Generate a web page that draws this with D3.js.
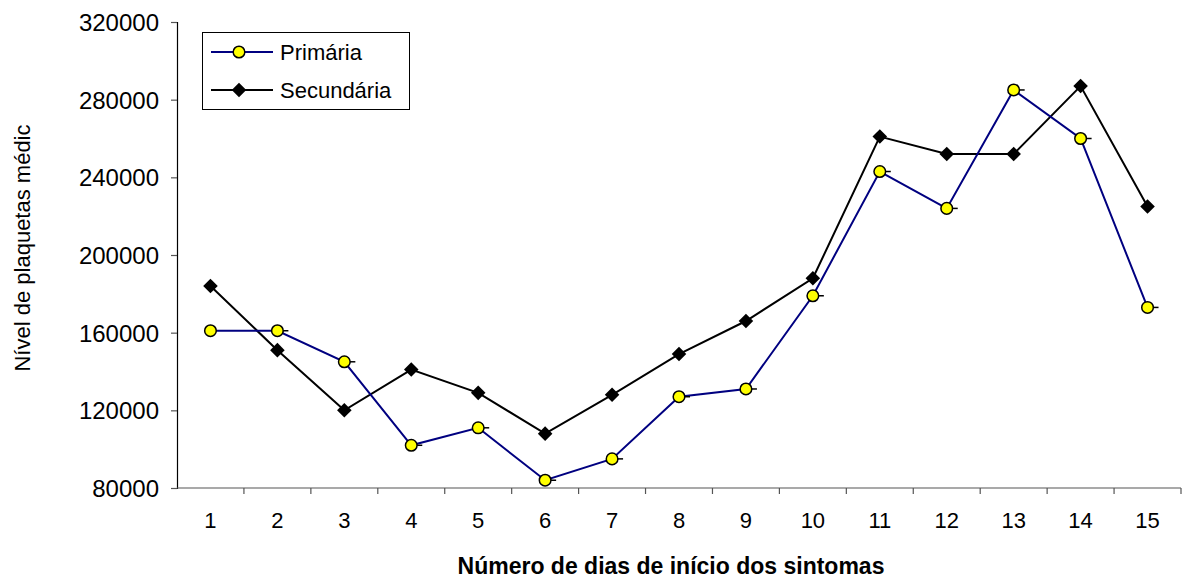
<!DOCTYPE html>
<html>
<head>
<meta charset="utf-8">
<script src="https://cdn.jsdelivr.net/npm/d3@7"></script>
<style>
  body { margin: 0; background: #fff; }
  text { font-family: "Liberation Sans", Arial, sans-serif; fill: #000; }
  .y-tick { font-size: 24px; }
  .x-tick { font-size: 22px; }
  .axis-title { font-size: 23px; font-weight: bold; }
  .y-title { font-size: 22px; }
  .legend-text { font-size: 22px; }
</style>
</head>
<body>
<div id="chart"></div>
<script>
// dias desde o início dos sintomas
const days = ['1', '2', '3', '4', '5', '6', '7', '8', '9', '10', '11', '12', '13', '14', '15'];
const primaria = [161000, 161000, 145000, 102000, 111000, 84000, 95000, 127000, 131000, 179000, 243000, 224000, 285000, 260000, 173000];
const secundaria = [184000, 151000, 120000, 141000, 129000, 108000, 128000, 149000, 166000, 188000, 261000, 252000, 252000, 287000, 225000];
const yTicks = [80000, 120000, 160000, 200000, 240000, 280000, 320000];

const width = 1182, height = 580;
const margin = { left: 177, right: 1, top: 22, bottom: 92 };

const svg = d3.select('#chart').append('svg')
    .attr('width', width)
    .attr('height', height);

const x = d3.scaleBand()
    .domain(days)
    .range([margin.left, width - margin.right])
    .padding(0);

const y = d3.scaleLinear()
    .domain([80000, 320000])
    .range([height - margin.bottom, margin.top]);

const x0 = margin.left, y0 = height - margin.bottom;

// eixo Y
const yAxis = svg.append('g')
    .attr('transform', `translate(${x0},0)`)
    .call(d3.axisLeft(y).tickValues(yTicks).tickSize(6).tickPadding(12).tickFormat(d3.format('d')));
yAxis.select('.domain').attr('stroke', '#000').attr('stroke-width', 1.2);
yAxis.selectAll('.tick line').attr('stroke', '#555').attr('stroke-width', 1.2);
yAxis.selectAll('.tick text').attr('class', 'y-tick').attr('font-size', null).attr('font-family', null)
    .attr('dy', '0.36em');

// eixo X: rótulos no centro, marcas nas divisões
const xAxis = svg.append('g')
    .attr('transform', `translate(0,${y0})`)
    .call(d3.axisBottom(x).tickSize(0).tickPadding(24));
xAxis.select('.domain').attr('stroke', '#555').attr('stroke-width', 1.2).attr('d', `M${x0},0H${width - margin.right}`);
xAxis.selectAll('.tick text').attr('class', 'x-tick').attr('font-size', null).attr('font-family', null)
    .attr('dy', '0.71em');

svg.append('g').selectAll('line')
    .data(days)
    .enter()
    .append('line')
    .attr('x1', d => x(d) + x.bandwidth())
    .attr('x2', d => x(d) + x.bandwidth())
    .attr('y1', y0)
    .attr('y2', y0 + 6)
    .attr('stroke', '#555')
    .attr('stroke-width', 1.2);

// títulos
svg.append('text')
    .attr('class', 'axis-title')
    .attr('x', 671)
    .attr('y', 574)
    .attr('text-anchor', 'middle')
    .text('Número de dias de início dos sintomas');

svg.append('text')
    .attr('class', 'y-title')
    .attr('transform', 'translate(30,248) rotate(-90)')
    .attr('text-anchor', 'middle')
    .text('Nível de plaquetas médic');

const line = d3.line()
    .x((d, i) => x(days[i]) + x.bandwidth() / 2)
    .y(d => y(d));

// Secundária
svg.append('path')
    .datum(secundaria)
    .attr('d', line)
    .attr('fill', 'none')
    .attr('stroke', '#000')
    .attr('stroke-width', 2);

// Primária
svg.append('path')
    .datum(primaria)
    .attr('d', line)
    .attr('fill', 'none')
    .attr('stroke', '#000080')
    .attr('stroke-width', 2);

const diamond = d3.symbol().type(d3.symbolDiamond2).size(135);

svg.append('g').selectAll('path')
    .data(secundaria)
    .enter()
    .append('path')
    .attr('d', diamond)
    .attr('transform', (d, i) => `translate(${x(days[i]) + x.bandwidth() / 2},${y(d)})`)
    .attr('fill', '#000');

// pequenos traços à direita dos círculos
svg.append('g').selectAll('line')
    .data(primaria.slice(1))
    .enter()
    .append('line')
    .attr('x1', (d, i) => x(days[i + 1]) + x.bandwidth() / 2)
    .attr('x2', (d, i) => x(days[i + 1]) + x.bandwidth() / 2 + 11)
    .attr('y1', d => y(d))
    .attr('y2', d => y(d))
    .attr('stroke', '#000')
    .attr('stroke-width', 1.5);

svg.append('g').selectAll('circle')
    .data(primaria)
    .enter()
    .append('circle')
    .attr('cx', (d, i) => x(days[i]) + x.bandwidth() / 2)
    .attr('cy', d => y(d))
    .attr('r', 5.8)
    .attr('fill', '#ffff00')
    .attr('stroke', '#000')
    .attr('stroke-width', 1.5);

// legenda
const legend = svg.append('g');
legend.append('rect')
    .attr('x', 202.5).attr('y', 32.5)
    .attr('width', 207).attr('height', 77)
    .attr('fill', '#fff')
    .attr('stroke', '#000')
    .attr('stroke-width', 1);

const legendItems = [
    { name: 'Primária', color: '#000080', marker: 'circle', y: 52 },
    { name: 'Secundária', color: '#000', marker: 'diamond', y: 90 }
];

legendItems.forEach(item => {
    legend.append('line')
        .attr('x1', 211).attr('x2', 273)
        .attr('y1', item.y).attr('y2', item.y)
        .attr('stroke', item.color)
        .attr('stroke-width', 2);
    if (item.marker === 'circle') {
        legend.append('circle')
            .attr('cx', 239).attr('cy', item.y).attr('r', 5.8)
            .attr('fill', '#ffff00').attr('stroke', '#000').attr('stroke-width', 1.5);
    } else {
        legend.append('path')
            .attr('d', diamond)
            .attr('transform', `translate(239,${item.y})`)
            .attr('fill', '#000');
    }
    legend.append('text')
        .attr('class', 'legend-text')
        .attr('x', 280)
        .attr('y', item.y + 8)
        .text(item.name);
});
</script>
</body>
</html>
